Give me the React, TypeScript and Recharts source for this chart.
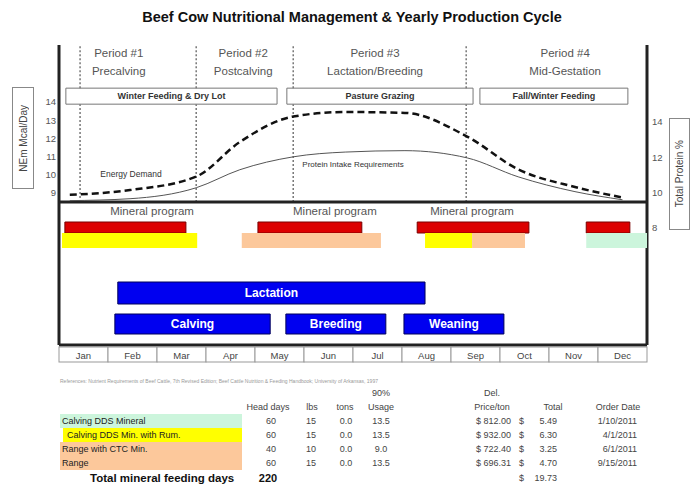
import React from 'react';
import {
  ComposedChart, Line, XAxis, YAxis, ReferenceLine, ReferenceArea, ReferenceDot,
  BarChart, Bar, LabelList,
} from 'recharts';

const FONT = 'Arial, "Liberation Sans", sans-serif';

const months = ['Jan', 'Feb', 'Mar', 'Apr', 'May', 'Jun', 'Jul', 'Aug', 'Sep', 'Oct', 'Nov', 'Dec'];
const monthTicks = [0.5, 1.5, 2.5, 3.5, 4.5, 5.5, 6.5, 7.5, 8.5, 9.5, 10.5, 11.5];

// curves, x = months from Jan 1
const curveMonths = [0.22, 1.45, 2.8, 3.69, 4.78, 5.84, 7.06, 8.33, 9.37, 10.53, 11.5];
const energyDemand = [8.9, 9.16, 9.9, 11.8, 13.2, 13.45, 13.4, 12.1, 10.3, 9.33, 8.75];
const proteinReq = [9.55, 9.66, 10.28, 11.3, 12.03, 12.3, 12.38, 11.97, 10.9, 10.06, 9.6];

const nemTicks = [9, 10, 11, 12, 13, 14];
const proteinTicks = [8, 10, 12, 14];

const periodNames = ['Period #1', 'Period #2', 'Period #3', 'Period #4'];
const periodStages = ['Precalving', 'Postcalving', 'Lactation/Breeding', 'Mid-Gestation'];
const periodStarts = [0.43, 2.8, 4.78, 8.31];
const periodLabelAt = [1.22, 3.76, 6.45, 10.33];

const feedingNames = ['Winter Feeding & Dry Lot', 'Pasture Grazing', 'Fall/Winter Feeding'];
const feedingStart = [0.14, 4.65, 8.59];
const feedingEnd = [4.45, 8.45, 11.61];

const mineralStart = [0.12, 4.06, 7.31, 10.76];
const mineralEnd = [2.59, 6.18, 9.59, 11.65];
const mineralLabelAt = [1.9, 5.63, 8.43];

const supplementStart = [0.06, 3.73, 7.47, 8.43, 10.76];
const supplementEnd = [2.82, 6.57, 8.43, 9.51, 12];
const supplementProduct = [1, 2, 1, 3, 0];

const lactationStart = [1.2];
const lactationEnd = [7.47];
const eventNames = ['Calving', 'Breeding', 'Weaning'];
const eventStart = [1.14, 4.63, 7.04];
const eventEnd = [4.31, 6.67, 9.08];

// mineral table
const products = ['Calving DDS Mineral', 'Calving DDS Min. with Rum.', 'Range with CTC Min.', 'Range'];
const headDays = [60, 60, 40, 60];
const lbs = [15, 15, 10, 15];
const tons = [0.0, 0.0, 0.0, 0.0];
const usage = [13.5, 13.5, 9.0, 13.5];
const pricePerTon = [812.0, 932.0, 722.4, 696.31];
const totals = [5.49, 6.3, 3.25, 4.7];
const orderDates = ['1/10/2011', '4/1/2011', '6/1/2011', '9/15/2011'];
const totalDays = 220;
const totalCost = 19.73;

const productColors = ['#ccf5dc', '#ffff00', '#fcc89b', '#fcc89b'];

// feeding box band on the NEm axis, and top/bottom of the upper panel
const BOX_LO = 13.88;
const BOX_HI = 14.76;
const PANEL_LO = 8.5;
const PANEL_HI = 17.13;

const curveData = curveMonths.map((m, i) => ({ m, energy: energyDemand[i], protein: proteinReq[i] }));

const textAt = (lines: string[], size: number, color = '#333', gap = 17, weight = 'normal') => (p: any) => {
  const vb = p.viewBox || p;
  const cx = vb.x + (vb.width || 0) / 2;
  const cy = vb.y + (vb.height || 0) / 2;
  return (
    <g>
      {lines.map((t, i) => (
        <text key={i} x={cx} y={cy + i * gap} textAnchor="middle" dominantBaseline="central"
          fontSize={size} fontFamily={FONT} fill={color} fontWeight={weight}>{t}</text>
      ))}
    </g>
  );
};

const MonthCell = (props: any) => {
  const { x, y, payload } = props;
  const i = Math.floor(payload.value);
  return (
    <g>
      <rect x={x - 24.5} y={y + 2} width={49} height={15} fill="#fff" stroke="#999" strokeWidth={1} />
      <text x={x} y={y + 10} textAnchor="middle" dominantBaseline="central" fontSize={9.5} fontFamily={FONT} fill="#444">
        {months[i]}
      </text>
    </g>
  );
};

type RowProps = {
  top: number; height: number; starts: number[]; ends: number[];
  colors: string[]; stroke?: string; labels?: string[];
};

const GanttRow = ({ top, height, starts, ends, colors, stroke, labels }: RowProps) => {
  const row: Record<string, number | string> = { row: 'r' };
  let prev = 0;
  starts.forEach((s, i) => {
    row['g' + i] = s - prev;
    row['s' + i] = ends[i] - s;
    prev = ends[i];
  });
  return (
    <div style={{ position: 'absolute', left: 0, top: top - 1, width: 691, height: height + 2 }}>
      <BarChart width={691} height={height + 2} data={[row]} layout="vertical"
        margin={{ top: 1, right: 44, bottom: 1, left: 59 }} barCategoryGap={0}>
        <XAxis type="number" domain={[0, 12]} hide allowDataOverflow />
        <YAxis type="category" dataKey="row" hide />
        {starts.flatMap((_, i) => [
          <Bar key={'g' + i} dataKey={'g' + i} stackId="a" fill="transparent" isAnimationActive={false} />,
          <Bar key={'s' + i} dataKey={'s' + i} stackId="a" fill={colors[i]} stroke={stroke || 'none'}
            strokeWidth={1} isAnimationActive={false}>
            {labels ? (
              <LabelList dataKey={'s' + i} content={textAt([labels[i]], 12, '#fff', 0, 'bold')} />
            ) : null}
          </Bar>,
        ])}
      </BarChart>
    </div>
  );
};

const cell = (left: number, top: number, text: string, align: 'left' | 'center' | 'right', extra: React.CSSProperties = {}) => {
  const w = 80;
  const l = align === 'left' ? left : align === 'center' ? left - w / 2 : left - w;
  return (
    <div style={{ position: 'absolute', left: l, top: top - 7, width: w, height: 14, lineHeight: '14px', textAlign: align, whiteSpace: 'nowrap', ...extra }}>
      {text}
    </div>
  );
};

export default function App() {
  const rowY = [421, 435, 449, 463];
  return (
    <div style={{ position: 'absolute', left: 0, top: 0, width: 691, height: 493, background: '#fff', fontFamily: FONT, fontSize: 9, color: '#444', overflow: 'hidden' }}>
      <div style={{ position: 'absolute', left: 52, top: 9, width: 600, textAlign: 'center', fontWeight: 'bold', fontSize: 14.5, color: '#111' }}>
        Beef Cow Nutritional Management &amp; Yearly Production Cycle
      </div>

      <div style={{ position: 'absolute', left: 0, top: 0 }}>
        <ComposedChart width={691} height={370} data={curveData} margin={{ top: 45, right: 0, bottom: 5, left: 0 }}>
          <XAxis type="number" dataKey="m" domain={[0, 12]} ticks={monthTicks} interval={0} height={20}
            allowDataOverflow axisLine={{ stroke: '#222', strokeWidth: 3 }} tickLine={false}
            tickSize={0} tickMargin={0} tick={<MonthCell />} />
          <YAxis yAxisId="nem" domain={[0.65, PANEL_HI]} ticks={nemTicks} width={59} allowDataOverflow
            axisLine={{ stroke: '#222', strokeWidth: 3 }} tickLine={false} tickSize={0} tickMargin={3}
            tick={{ fontSize: 9.5, fill: '#555', fontFamily: FONT }} />
          <YAxis yAxisId="prot" orientation="right" domain={[1.38, 18.36]} ticks={proteinTicks} width={44}
            allowDataOverflow axisLine={{ stroke: '#222', strokeWidth: 3 }} tickLine={false} tickSize={0}
            tickMargin={5} tick={{ fontSize: 9.5, fill: '#555', fontFamily: FONT }} />

          {periodStarts.map((p, i) => (
            <ReferenceLine key={'pa' + i} yAxisId="nem" segment={[{ x: p, y: PANEL_LO }, { x: p, y: BOX_LO }]}
              stroke="#777" strokeWidth={1.5} strokeDasharray="2 2" />
          ))}
          {periodStarts.map((p, i) => (
            <ReferenceLine key={'pb' + i} yAxisId="nem" segment={[{ x: p, y: BOX_HI }, { x: p, y: PANEL_HI }]}
              stroke="#777" strokeWidth={1.5} strokeDasharray="2 2" />
          ))}
          <ReferenceLine yAxisId="nem" y={PANEL_LO} stroke="#222" strokeWidth={3} />

          {feedingNames.map((n, i) => (
            <ReferenceArea key={'fa' + i} yAxisId="nem" x1={feedingStart[i]} x2={feedingEnd[i]} y1={BOX_LO} y2={BOX_HI}
              fill="#fff" fillOpacity={1} stroke="#777" strokeWidth={1}
              label={textAt([n], 9, '#333', 0, 'bold')} />
          ))}

          {periodNames.map((n, i) => (
            <ReferenceDot key={'pn' + i} yAxisId="nem" x={periodLabelAt[i]} y={16.69} r={1} fill="none" stroke="none"
              label={textAt([n, periodStages[i]], 11.5, '#555', 18)} />
          ))}

          <ReferenceDot yAxisId="nem" x={1.47} y={10.04} r={1} fill="none" stroke="none"
            label={textAt(['Energy Demand'], 8.5, '#333')} />
          <ReferenceDot yAxisId="nem" x={6.0} y={10.59} r={1} fill="none" stroke="none"
            label={textAt(['Protein Intake Requirements'], 8, '#333')} />

          {mineralLabelAt.map((m, i) => (
            <ReferenceDot key={'ml' + i} yAxisId="nem" x={m} y={8.0} r={1} fill="none" stroke="none"
              label={textAt(['Mineral program'], 11.5, '#555')} />
          ))}

          <Line yAxisId="prot" dataKey="protein" type="monotone" stroke="#555" strokeWidth={1} dot={false} isAnimationActive={false} />
          <Line yAxisId="nem" dataKey="energy" type="monotone" stroke="#111" strokeWidth={2.5} strokeDasharray="7 4" dot={false} isAnimationActive={false} />
        </ComposedChart>
      </div>

      <GanttRow top={222} height={11} starts={mineralStart} ends={mineralEnd}
        colors={mineralStart.map(() => '#dc0000')} stroke="#7a0000" />
      <GanttRow top={233} height={15} starts={supplementStart} ends={supplementEnd}
        colors={supplementProduct.map((p) => productColors[p])} />
      <GanttRow top={282} height={22} starts={lactationStart} ends={lactationEnd}
        colors={['#0000f0']} stroke="#00005a" labels={['Lactation']} />
      <GanttRow top={314} height={20} starts={eventStart} ends={eventEnd}
        colors={eventStart.map(() => '#0000f0')} stroke="#00005a" labels={eventNames} />

      <div style={{ position: 'absolute', left: 12, top: 87, width: 20, height: 100, border: '1px solid #888', display: 'flex', alignItems: 'center', justifyContent: 'center' }}>
        <span style={{ writingMode: 'vertical-rl', transform: 'rotate(180deg)', fontSize: 10, color: '#444', whiteSpace: 'nowrap' }}>NEm Mcal/Day</span>
      </div>
      <div style={{ position: 'absolute', left: 669, top: 118, width: 19, height: 110, border: '1px solid #888', display: 'flex', alignItems: 'center', justifyContent: 'center' }}>
        <span style={{ writingMode: 'vertical-rl', transform: 'rotate(180deg)', fontSize: 10, color: '#444', whiteSpace: 'nowrap' }}>Total Protein %</span>
      </div>

      <div style={{ position: 'absolute', left: 60, top: 378, fontSize: 5, color: '#999', whiteSpace: 'nowrap' }}>
        References: Nutrient Requirements of Beef Cattle, 7th Revised Edition; Beef Cattle Nutrition &amp; Feeding Handbook; University of Arkansas, 1997
      </div>

      {cell(381, 393, '90%', 'center')}
      {cell(492, 393, 'Del.', 'center')}
      {cell(268, 407, 'Head days', 'center')}
      {cell(312, 407, 'lbs', 'center')}
      {cell(345, 407, 'tons', 'center')}
      {cell(381, 407, 'Usage', 'center')}
      {cell(492, 407, 'Price/ton', 'center')}
      {cell(553, 407, 'Total', 'center')}
      {cell(618, 407, 'Order Date', 'center')}

      {products.map((p, i) => (
        <React.Fragment key={p}>
          <div style={{ position: 'absolute', left: i === 1 ? 63 : 60, top: rowY[i] - 7, width: i === 1 ? 179 : 182, height: 14, background: productColors[i] }} />
          {cell(i === 1 ? 67 : 62, rowY[i], p, 'left', { color: '#222', width: 180 })}
          {cell(271, rowY[i], String(headDays[i]), 'center')}
          {cell(311, rowY[i], String(lbs[i]), 'center')}
          {cell(346, rowY[i], tons[i].toFixed(1), 'center')}
          {cell(381, rowY[i], usage[i].toFixed(1), 'center')}
          {cell(476, rowY[i], '$', 'left')}
          {cell(511, rowY[i], pricePerTon[i].toFixed(2), 'right')}
          {cell(519, rowY[i], '$', 'left')}
          {cell(557, rowY[i], totals[i].toFixed(2), 'right')}
          {cell(637, rowY[i], orderDates[i], 'right')}
        </React.Fragment>
      ))}

      {cell(90, 478, 'Total mineral feeding days', 'left', { fontWeight: 'bold', fontSize: 11.5, color: '#111', width: 170 })}
      {cell(268, 478, String(totalDays), 'center', { fontWeight: 'bold', fontSize: 11, color: '#111' })}
      {cell(519, 478, '$', 'left')}
      {cell(557, 478, totalCost.toFixed(2), 'right')}
    </div>
  );
}
